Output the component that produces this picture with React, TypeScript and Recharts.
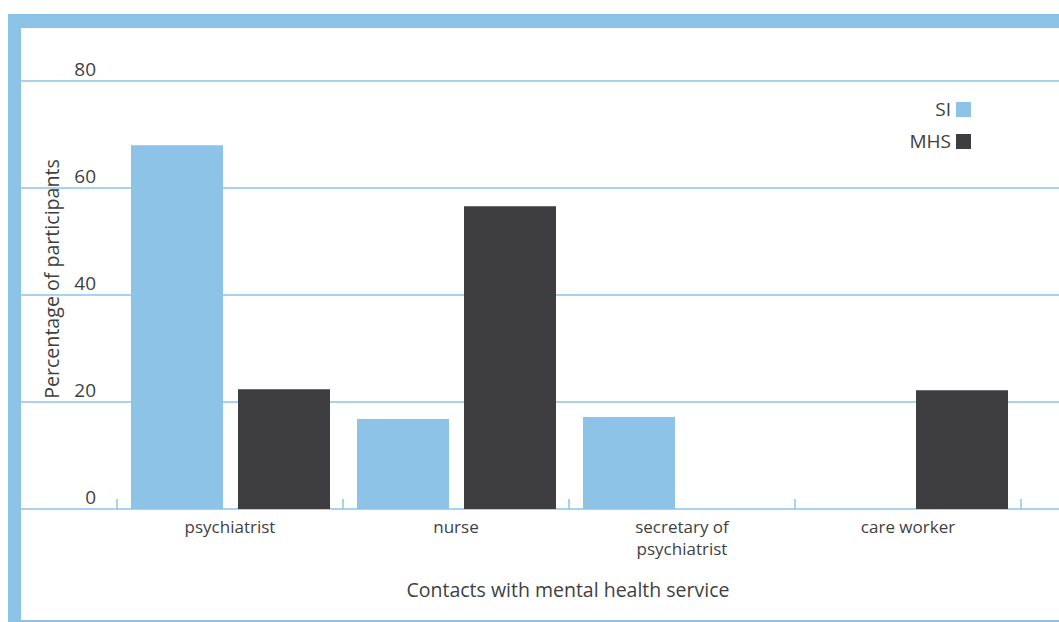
import React from 'react';
import { BarChart, Bar, XAxis, YAxis, CartesianGrid, Text } from 'recharts';

const categories = ['psychiatrist', 'nurse', 'secretary of psychiatrist', 'care worker'];
const siValues = [68, 16.8, 17.2, 0];
const mhsValues = [22.4, 56.6, 0, 22.2];
const yTicks = [0, 20, 40, 60, 80];
const seriesNames = ['SI', 'MHS'];

const BLUE = '#8cc3e6';
const DARK = '#3e3e41';
const TEXT = '#3f3f42';
const FONT = '"Open Sans", "Noto Sans", sans-serif';

const W = 1059;
const H = 622;
const PLOT_LEFT = 117;
const PLOT_RIGHT = 1021;
const PLOT_TOP = 81;
const PLOT_BOTTOM = 509;
const BAND = (PLOT_RIGHT - PLOT_LEFT) / categories.length;

const data = categories.map((name, i) => ({ name, SI: siValues[i], MHS: mhsValues[i] }));
const seriesColors = [BLUE, DARK];

const YTick = (props: any) => {
  const { y, payload } = props;
  return (
    <text x={96} y={y - 5} textAnchor="end" fill={TEXT} fontSize={19} fontFamily={FONT}>
      {payload.value}
    </text>
  );
};

const XTick = (props: any) => {
  const { x, payload, index } = props;
  const last = index === categories.length - 1;
  return (
    <g>
      <line x1={x - BAND / 2} x2={x - BAND / 2} y1={PLOT_BOTTOM - 10} y2={PLOT_BOTTOM} stroke={BLUE} strokeWidth={1.5} />
      {last && (
        <line x1={x + BAND / 2} x2={x + BAND / 2} y1={PLOT_BOTTOM - 10} y2={PLOT_BOTTOM} stroke={BLUE} strokeWidth={1.5} />
      )}
      <Text
        x={x}
        y={521}
        width={140}
        textAnchor="middle"
        verticalAnchor="start"
        lineHeight={22}
        fill={TEXT}
        fontSize={17}
        fontFamily={FONT}
      >
        {payload.value}
      </Text>
    </g>
  );
};

export default function App() {
  return (
    <div style={{ position: 'absolute', left: 0, top: 0, width: W, height: H, background: '#fff', overflow: 'hidden' }}>
      <div style={{ position: 'absolute', left: 8, top: 14, right: 0, height: 14, background: BLUE }} />
      <div style={{ position: 'absolute', left: 8, top: 14, width: 13, bottom: 0, background: BLUE }} />
      <div style={{ position: 'absolute', left: 21, top: 620, right: 0, height: 2, background: BLUE }} />
      <div style={{ position: 'absolute', left: 0, top: 0 }}>
        <BarChart
          width={W}
          height={H}
          data={data}
          margin={{ top: PLOT_TOP, right: W - PLOT_RIGHT, bottom: 0, left: 0 }}
          barCategoryGap={14}
          barGap={15}
        >
          <CartesianGrid vertical={false} x={21} width={W - 21} stroke={BLUE} strokeWidth={1.5} />
          <YAxis
            domain={[0, 80]}
            ticks={yTicks}
            width={PLOT_LEFT}
            axisLine={false}
            tickLine={false}
            tick={<YTick />}
            label={{
              content: () => (
                <text
                  x={51}
                  y={279}
                  transform="rotate(-90 51 279)"
                  textAnchor="middle"
                  dominantBaseline="central"
                  fill={TEXT}
                  fontSize={19.6}
                  fontFamily={FONT}
                >
                  Percentage of participants
                </text>
              ),
            }}
          />
          <XAxis
            dataKey="name"
            height={H - PLOT_BOTTOM}
            axisLine={false}
            tickLine={false}
            interval={0}
            tick={<XTick />}
            label={{
              content: () => (
                <text x={568} y={597} textAnchor="middle" fill={TEXT} fontSize={19.5} fontFamily={FONT}>
                  Contacts with mental health service
                </text>
              ),
            }}
          />
          <Bar dataKey="SI" fill={BLUE} isAnimationActive={false} />
          <Bar dataKey="MHS" fill={DARK} isAnimationActive={false} />
        </BarChart>
      </div>
      <div style={{ position: 'absolute', top: 93, left: 860, width: 111, fontFamily: FONT, fontSize: 19, color: TEXT }}>
        {seriesNames.map((name, i) => (
          <div key={name} style={{ display: 'flex', justifyContent: 'flex-end', alignItems: 'center', height: 32 }}>
            <span style={{ marginRight: 5 }}>{name}</span>
            <span style={{ display: 'inline-block', width: 15, height: 15, background: seriesColors[i] }} />
          </div>
        ))}
      </div>
    </div>
  );
}
